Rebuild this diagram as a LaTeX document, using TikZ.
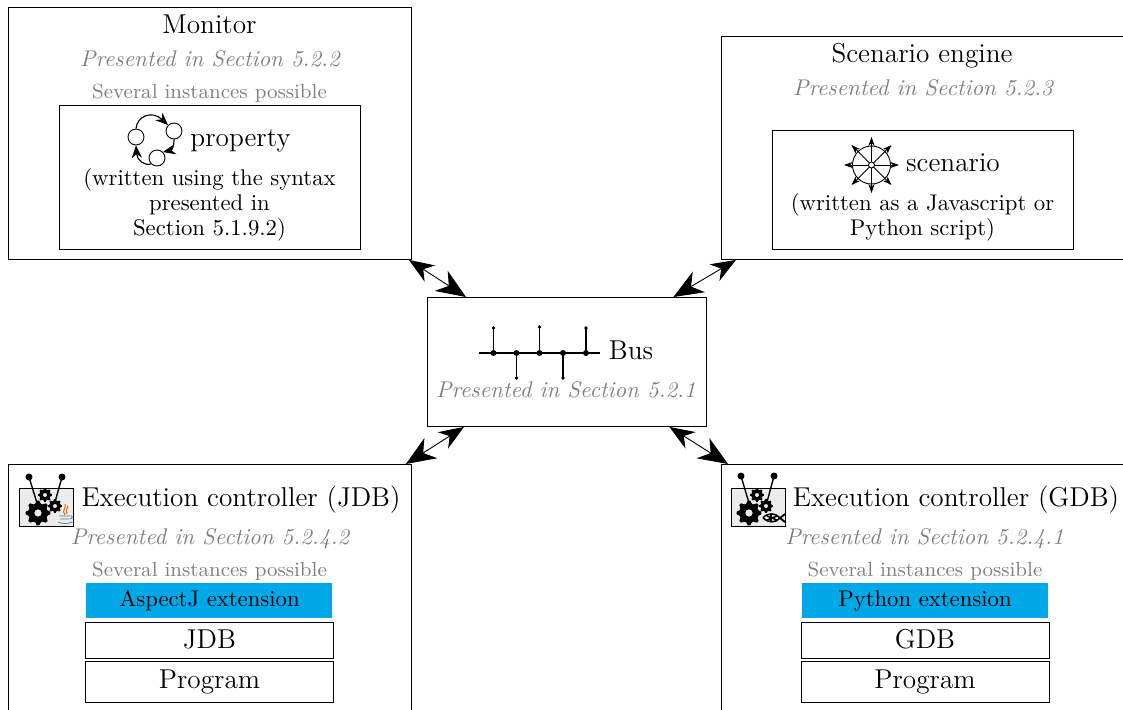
\documentclass[tikz,border=0pt]{standalone}
\usetikzlibrary{arrows.meta,calc}
\definecolor{bluebox}{HTML}{00A8E8}
\definecolor{iconbg}{HTML}{ECECEC}
\definecolor{javaorange}{HTML}{E76F00}
\definecolor{javablue}{HTML}{5382A1}
\newcommand{\gearicon}[4]{% x,y,r,teeth
  \fill[black,even odd rule]
    plot[smooth cycle,tension=0.05,samples at={0,...,\numexpr #4*4-1\relax}]
      ({#1+(#3)*(mod(\x,4)<2?1:0.78)*cos((\x-0.5)*90/#4)},{#2+(#3)*(mod(\x,4)<2?1:0.78)*sin((\x-0.5)*90/#4)})
    (#1,#2) circle[radius=0.3*#3];
}
\newlength{\pxu}\setlength{\pxu}{0.44pt}
\tikzset{
  x=\pxu,y=-\pxu,
  line width=0.44pt,
  outerbox/.style={draw,minimum width=403*\pxu,inner sep=0pt,anchor=north west},
  innerbox/.style={draw,inner sep=0pt,anchor=north west},
  title/.style={anchor=base,inner sep=0pt,font=\large},
  label/.style={anchor=base,inner sep=0pt,font=\normalsize},
  pres/.style={anchor=base,inner sep=0pt,text=black!50,font=\normalsize\itshape},
  several/.style={anchor=base,inner sep=0pt,text=black!50,font=\small},
  biarrow/.style={{Stealth[length=11pt,width=8.5pt,inset=3.5pt]}-{Stealth[length=13pt,width=10.5pt,inset=4pt]}},
  loopnode/.style={draw,circle,minimum size=16*\pxu,inner sep=0pt,fill=white},
  looparrow/.style={-{Stealth[length=5.5pt,width=4.5pt]},line width=0.5pt},
  spoke/.style={{Stealth[length=4pt,width=2.8pt]}-{Stealth[length=4pt,width=2.8pt]}},
}
\begin{document}
\begin{tikzpicture}
\useasboundingbox (0,0) rectangle (1123,709);
\clip (0,0) rectangle (1123,709);

% outer boxes
\node[outerbox,minimum height=252*\pxu] (monitor) at (8,7) {};
\node[outerbox,minimum height=223*\pxu] (engine) at (721,36) {};
\node[outerbox,minimum width=278.5*\pxu,minimum height=129*\pxu] (bus) at (427,297) {};
\node[outerbox,minimum height=270*\pxu] (jdb) at (8,464) {};
\node[outerbox,minimum height=270*\pxu] (gdb) at (721,464) {};

% connectors
\draw[biarrow] ($(monitor.south east)+(-3,0)$) -- ($(bus.north west)+(39,0)$);
\draw[biarrow] ($(engine.south west)+(15,0)$) -- ($(bus.north east)+(-33,0)$);
\draw[biarrow] ($(bus.south west)+(37,0)$) -- ($(jdb.north east)+(-6,0)$);
\draw[biarrow] ($(bus.south east)+(-37,0)$) -- ($(gdb.north west)+(7,0)$);

% Monitor
\node[title] (montitle) at (209.5,33) {Monitor};
\node[pres] (monpres) at (210,66) {Presented in Section 5.2.2};
\node[several] (monsev) at (209.5,98) {Several instances possible};
\node[innerbox,minimum width=301*\pxu,minimum height=144*\pxu] (propbox) at (59,105) {};
\node[loopnode] (la) at (136,137) {};
\node[loopnode] (lb) at (174,131) {};
\node[loopnode] (lc) at (157,158) {};
\draw[looparrow] (la.north) .. controls (137,116) and (152,110) .. (lb.north west);
\draw[looparrow] (lb.south) .. controls (174,147) and (172,150) .. (lc.north east);
\draw[looparrow] (lc.south west) .. controls (144,166) and (137,160) .. (la.south);
\node[title] (proptext) at (240.5,146) {property};
\node[label] (propa) at (209.5,185) {(written using the syntax};
\node[label] (propb) at (209.5,210) {presented in};
\node[label] (propc) at (209.5,235) {Section 5.1.9.2)};

% Scenario engine
\node[title] (engtitle) at (922,62) {Scenario engine};
\node[pres] (engpres) at (923,95) {Presented in Section 5.2.3};
\node[innerbox,minimum width=301*\pxu,minimum height=119*\pxu] (scenbox) at (772,130) {};
\coordinate (wheel) at (871.5,165);
\draw (wheel) circle[radius=19];
\draw[spoke] (844,165) -- (899,165);
\draw[spoke] (871.5,137) -- (871.5,193);
\draw[spoke] (851.5,145) -- (891.5,185);
\draw[spoke] (891.5,145) -- (851.5,185);
\draw[fill=white] (wheel) circle[radius=3];
\node[title] (scentext) at (953,171) {scenario};
\node[label] (scena) at (922.5,210) {(written as a Javascript or};
\node[label] (scenb) at (922.5,235) {Python script)};

% Bus
\node[title] (bustext) at (631,359) {Bus};
\node[pres] (buspres) at (566,397) {Presented in Section 5.2.1};
\coordinate (busl) at (479,353);
\coordinate (busr) at (600,353);
\draw[line width=0.55pt] (busl) -- (busr);
\foreach \px/\py in {493.5/328,516.5/378,539.5/327,563/378,586/328}{
  \draw[line width=0.55pt] (\px,353) -- (\px,\py);
  \fill (\px,353) circle[radius=3];
  \fill (\px,\py) circle[radius=1.8];
}

% Execution controller JDB
\draw[fill=iconbg] (19,488) rectangle (73,526);
\gearicon{38}{513}{12.5}{8}
\gearicon{55}{506}{7}{8}
\gearicon{45}{495}{7}{8}
\draw[line width=0.6pt] (29,477) -- (37,503);
\draw[line width=0.6pt] (62,477) -- (55,502);
\fill (29,477) circle[radius=3.5];
\fill (62,477) circle[radius=3.5];
\draw[javaorange,line width=0.45pt] (65,504) .. controls (67,508) and (61,510) .. (65,515);
\draw[javaorange,line width=0.45pt] (68,506) .. controls (67,510) and (65,511) .. (67,514);
\draw[javablue,line width=0.35pt] (59,516) -- (70,516) (60,519) -- (69,519) (58,522) .. controls (62,524) and (68,524) .. (72,522);
\draw[javablue,line width=0.35pt] (71,515.5) .. controls (73,516) and (73,518) .. (70,519);
\node[title] (jdbtitle) at (241,506) {Execution controller (JDB)};
\node[pres] (jdbpres) at (210,544) {Presented in Section 5.2.4.2};
\node[several] (jdbsev) at (209.5,576) {Several instances possible};
\node[innerbox,fill=bluebox,draw=none,minimum width=246*\pxu,minimum height=35*\pxu] (jdbext) at (86,583) {};
\node[label] (jdbextt) at (209.5,606) {AspectJ extension};
\node[innerbox,minimum width=248*\pxu,minimum height=36*\pxu] (jdbtool) at (85,622) {};
\node[title] (jdbtoolt) at (209.5,648) {JDB};
\node[innerbox,minimum width=248*\pxu,minimum height=41*\pxu] (jdbprog) at (85,661) {};
\node[title] (jdbprogt) at (209.5,688) {Program};

% Execution controller GDB
\draw[fill=iconbg] (731,488) rectangle (785,526);
\gearicon{749}{513}{12.5}{8}
\gearicon{766}{506}{7}{8}
\gearicon{757}{495}{7}{8}
\draw[line width=0.6pt] (741,476) -- (749,503);
\draw[line width=0.6pt] (774,476) -- (767,502);
\fill (741,476) circle[radius=3.5];
\fill (774,476) circle[radius=3.5];
\draw[line width=0.7pt,fill=white] (763,518) .. controls (768,512) and (776,513) .. (780,518) .. controls (776,523) and (768,523) .. (763,518);
\draw[line width=0.8pt] (780,518) -- (785,514) (780,518) -- (785,522);
\draw[line width=0.7pt] (767,516) -- (777,520) (767,520) -- (777,516) (771,514) -- (771,522);
\node[title] (gdbtitle) at (956,506) {Execution controller (GDB)};
\node[pres] (gdbpres) at (924.5,544) {Presented in Section 5.2.4.1};
\node[several] (gdbsev) at (925,576) {Several instances possible};
\node[innerbox,fill=bluebox,draw=none,minimum width=246*\pxu,minimum height=35*\pxu] (gdbext) at (802,583) {};
\node[label] (gdbextt) at (925,606) {Python extension};
\node[innerbox,minimum width=248*\pxu,minimum height=36*\pxu] (gdbtool) at (801,622) {};
\node[title] (gdbtoolt) at (925,648) {GDB};
\node[innerbox,minimum width=248*\pxu,minimum height=41*\pxu] (gdbprog) at (801,661) {};
\node[title] (gdbprogt) at (925,688) {Program};
\end{tikzpicture}
\end{document}
